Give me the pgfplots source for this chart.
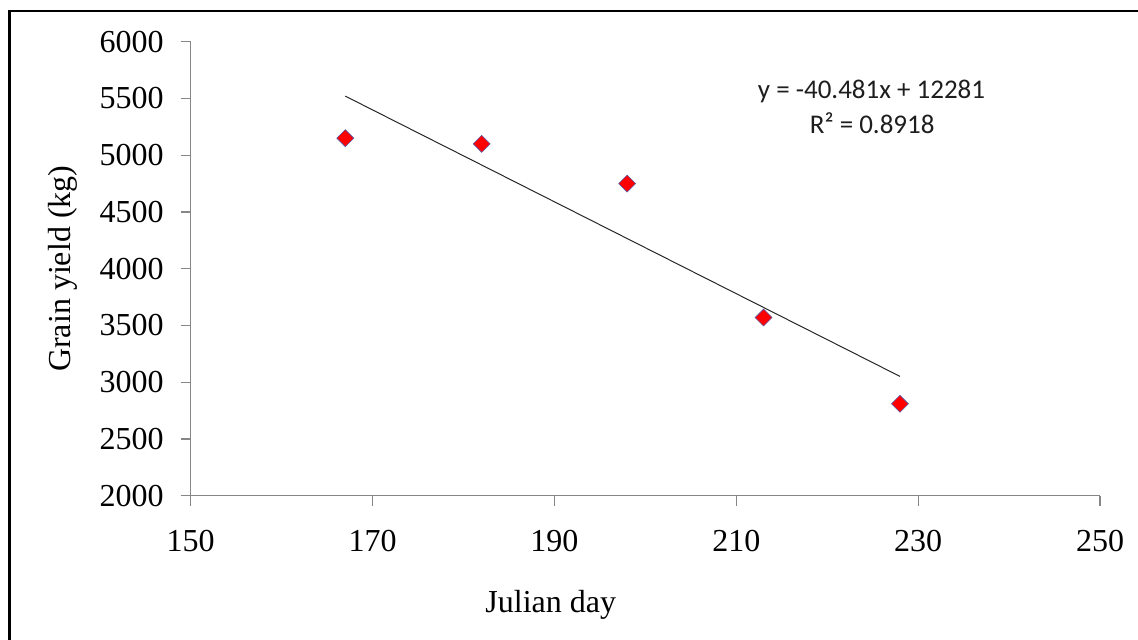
\documentclass[border=0pt]{standalone}
\usepackage{pgfplots}
\pgfplotsset{compat=1.18}
\usepackage{fontspec}
\setmainfont{Liberation Serif}
\newfontfamily\calibri{Carlito}
\definecolor{axisgray}{RGB}{134,134,134}
\definecolor{trendgray}{RGB}{40,40,40}
\definecolor{eqtext}{RGB}{30,30,30}

\begin{document}
\begin{tikzpicture}
% page = 1138 x 639 px at 0.5pt per px, origin at the axis corner
\path[use as bounding box] (-95.35pt,-71.65pt) rectangle (473.65pt,247.85pt);
\draw[black, line width=1.2pt] (-90.6pt,-72pt) -- (-90.6pt,242.35pt) -- (474pt,242.35pt);
\begin{axis}[
    at={(0pt,0pt)}, anchor=south west,
    scale only axis,
    width=454.65pt, height=227pt,
    xmin=150, xmax=250,
    ymin=2000, ymax=6000,
    xtick={150,170,190,210,230,250},
    ytick={2000,2500,3000,3500,4000,4500,5000,5500,6000},
    axis x line*=bottom,
    axis y line*=left,
    axis line style={axisgray, line width=0.6pt, -},
    tick style={axisgray, line width=0.6pt},
    tick align=outside,
    major tick length=5pt,
    minor tick num=0,
    tick label style={font=\fontsize{16}{19}\selectfont, black},
    xticklabel style={yshift=-8.5pt},
    yticklabel style={xshift=-5pt},
    /pgf/number format/assume math mode=true,
    /pgf/number format/1000 sep={},
    xlabel={Julian day},
    ylabel={Grain yield (kg)},
    label style={font=\fontsize{16}{19}\selectfont},
    xlabel style={at={(axis description cs:0.396,-0.241)}, anchor=center},
    ylabel style={at={(axis description cs:-0.1404,0.5)}, anchor=center, rotate=0},
    clip=false,
]
\addplot[draw=none, mark=square*, mark size=3pt,
    mark options={rotate=45, fill=red, draw=blue!30!gray, line width=0.3pt}]
    coordinates {
    (167,5150)(182,5100)(198,4750)(213,3570)(228,2810)
    };
\addplot[trendgray, line width=0.5pt, mark=none]
    coordinates {
    (167,5520.7)(228,3051.3)
    };
\node[font=\calibri\fontsize{13.5}{16}\selectfont, text=eqtext, anchor=center]
    at (axis cs:224.87,5559) {y = -40.481x + 12281};
\node[font=\calibri\fontsize{13.5}{16}\selectfont, text=eqtext, anchor=center]
    at (axis cs:224.95,5284) {R² = 0.8918};
\end{axis}
\end{tikzpicture}
\end{document}
